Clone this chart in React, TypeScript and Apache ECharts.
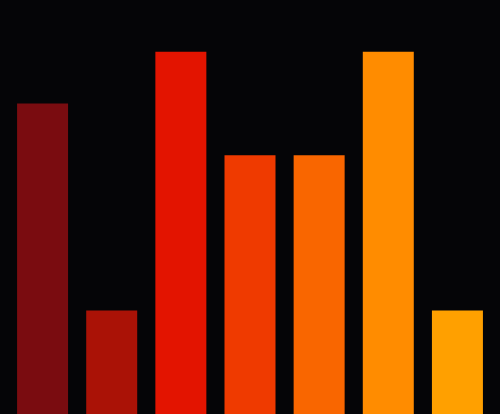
import React, { useEffect, useRef } from "react";
import * as echarts from "echarts";

const categories = ["A", "B", "C", "D", "E", "F", "G"];
const values = [6, 2, 7, 5, 5, 7, 2];
const colors = ["#7a0c10", "#aa1206", "#e31400", "#ef3a00", "#f96600", "#ff8c00", "#ffa000"];

export default function App() {
  const ref = useRef<HTMLDivElement>(null);
  useEffect(() => {
    document.body.style.margin = "0";
    document.body.style.background = "#050507";
    const chart = echarts.init(ref.current!, undefined, { renderer: "svg" });
    chart.setOption({
      animation: false,
      backgroundColor: "#050507",
      grid: { left: 8, right: 8, top: 0, bottom: 0 },
      xAxis: {
        type: "category",
        data: categories,
        show: false,
      },
      yAxis: {
        type: "value",
        min: 0,
        max: 8,
        show: false,
        splitLine: { show: false },
      },
      series: [
        {
          type: "bar",
          barWidth: 51,
          data: values.map((v, i) => ({ value: v, itemStyle: { color: colors[i] } })),
        },
      ],
    });
    return () => chart.dispose();
  }, []);
  return <div ref={ref} style={{ width: 500, height: 414 }} />;
}
